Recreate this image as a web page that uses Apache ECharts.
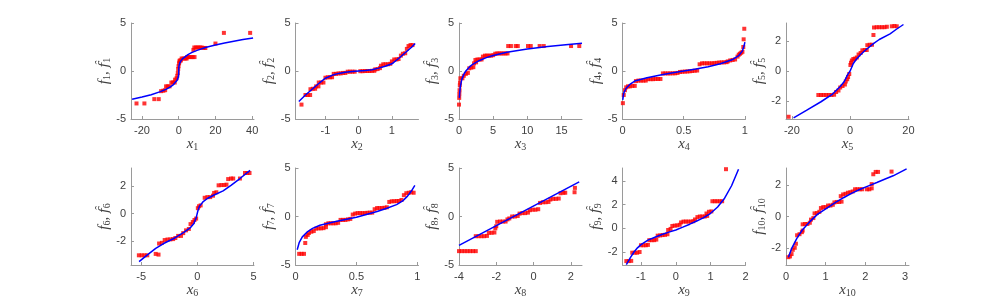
<!DOCTYPE html>
<html>
<head>
<meta charset="utf-8">
<script src="https://cdn.jsdelivr.net/npm/echarts@6/dist/echarts.min.js"></script>
<style>
html,body{margin:0;padding:0;background:#fff;}
#c{width:1005px;height:306px;}
</style>
</head>
<body>
<div id="c"></div>
<script>
// ---------- data ----------
const red1 = [[-23,-3.38],[-18.7,-3.38],[-13.3,-2.93],[-10.9,-2.93],[-9.6,-2.1],[-8.4,-2.05],[-7.4,-2.0],[-6.9,-1.6],[-6.0,-1.6],[-5.0,-1.6],[-4.0,-1.2],[-3.1,-1.2],[-2.2,-1.2],[-2.0,-0.9],[-1.2,-0.76],[-0.8,-0.5],[-0.5,-0.2],[-0.3,0.2],[-0.1,0.5],[0.2,0.8],[0.4,1.0],[0.6,1.1],[1.2,1.1],[1.6,1.3],[2.6,1.3],[3.6,1.3],[4.3,1.3],[4.6,1.45],[5.6,1.45],[6.6,1.45],[7.6,1.45],[8.6,1.45],[8.0,2.2],[8.5,2.45],[9.5,2.45],[10.5,2.45],[11.5,2.45],[12.5,2.45],[13.5,2.4],[14.5,2.4],[20,2.86],[24.6,3.97],[38.9,3.97]];
const fit1 = [[-25.4,-2.94],[-20,-2.71],[-15,-2.47],[-10,-2.15],[-7,-1.91],[-5,-1.71],[-3,-1.44],[-2,-1.26],[-1,-1.0],[-0.5,-0.79],[-0.2,-0.58],[-0.05,-0.37],[-0.01,-0.2],[0,0],[0.01,0.2],[0.05,0.37],[0.2,0.58],[0.5,0.79],[1,1.0],[2,1.26],[3,1.44],[5,1.71],[7,1.91],[10,2.15],[15,2.47],[20,2.71],[25,2.92],[30,3.11],[35,3.27],[40.5,3.43]];

const red2 = [[-1.72,-3.5],[-1.6,-2.5],[-1.53,-2.5],[-1.46,-2.5],[-1.45,-1.9],[-1.38,-1.85],[-1.31,-1.85],[-1.28,-1.6],[-1.21,-1.6],[-1.2,-1.2],[-1.13,-1.2],[-1.06,-1.2],[-1.0,-0.7],[-0.93,-0.65],[-0.86,-0.65],[-0.8,-0.65],[-0.75,-0.3],[-0.68,-0.3],[-0.61,-0.25],[-0.54,-0.25],[-0.47,-0.2],[-0.4,-0.2],[-0.33,-0.07],[-0.26,-0.07],[-0.19,-0.07],[-0.12,-0.07],[0.05,-0.02],[0.12,-0.02],[0.19,0],[0.26,0],[0.33,0],[0.4,0.02],[0.47,0.02],[0.5,0.17],[0.57,0.2],[0.64,0.3],[0.67,0.55],[0.74,0.7],[0.81,0.7],[0.88,0.7],[0.95,0.75],[1.0,1.0],[1.07,1.2],[1.14,1.2],[1.2,1.25],[1.27,1.6],[1.33,1.8],[1.4,1.85],[1.45,2.3],[1.5,2.6],[1.56,2.7],[1.62,2.7]];
const fit2 = [[-1.8,-3.17],[-1.6,-2.5],[-1.4,-1.9],[-1.2,-1.3],[-1.0,-0.75],[-0.8,-0.45],[-0.6,-0.25],[-0.4,-0.12],[-0.2,-0.05],[0,0],[0.2,0.05],[0.4,0.12],[0.6,0.3],[0.8,0.5],[1.0,0.75],[1.2,1.3],[1.4,1.9],[1.6,2.5],[1.7,2.86]];

const red3 = [[0.0,-3.5],[0.03,-2.8],[0.05,-2.4],[0.08,-2.0],[0.12,-1.5],[0.15,-1.2],[0.2,-0.76],[0.5,-0.76],[0.7,-0.5],[1.0,-0.3],[1.3,-0.2],[1.5,0.28],[1.8,0.35],[2.1,0.4],[2.2,0.8],[2.5,0.9],[2.4,1.15],[2.7,1.2],[3.0,1.2],[3.3,1.2],[3.5,1.5],[3.8,1.6],[4.1,1.6],[4.4,1.6],[4.7,1.6],[5.0,1.65],[5.3,1.8],[5.6,1.83],[5.9,1.83],[6.2,1.83],[6.5,1.83],[6.8,1.83],[7.1,1.83],[7.2,2.6],[7.6,2.6],[8.3,2.6],[8.6,2.6],[10.1,2.6],[10.5,2.6],[11.8,2.6],[12.4,2.6],[16.4,2.6],[17.6,2.6]];
const fit3 = [[0.06,-2.8],[0.1,-2.3],[0.2,-1.6],[0.4,-0.9],[0.7,-0.35],[1,0],[1.5,0.4],[2,0.7],[3,1.1],[4,1.39],[5,1.61],[7,1.95],[10,2.3],[13,2.56],[16,2.77],[18,2.89]];

const red4 = [[0.003,-3.35],[0.01,-2.5],[0.02,-2.0],[0.03,-1.7],[0.045,-1.6],[0.06,-1.6],[0.08,-1.55],[0.1,-1.55],[0.11,-1.05],[0.13,-1.0],[0.15,-1.0],[0.17,-1.0],[0.19,-1.0],[0.21,-0.85],[0.23,-0.85],[0.25,-0.85],[0.27,-0.83],[0.29,-0.83],[0.31,-0.83],[0.33,-0.25],[0.35,-0.25],[0.37,-0.25],[0.39,-0.25],[0.41,-0.24],[0.43,-0.24],[0.45,-0.2],[0.47,-0.1],[0.49,-0.08],[0.51,-0.06],[0.53,-0.05],[0.55,-0.03],[0.57,0.0],[0.59,0.03],[0.61,0.05],[0.63,0.7],[0.65,0.8],[0.67,0.8],[0.69,0.8],[0.71,0.8],[0.73,0.8],[0.75,0.82],[0.77,0.85],[0.79,0.88],[0.81,0.9],[0.83,0.9],[0.85,0.92],[0.86,1.0],[0.88,1.1],[0.9,1.15],[0.92,1.2],[0.94,1.5],[0.95,1.7],[0.96,1.8],[0.97,1.9],[0.98,2.0],[0.987,2.5],[0.99,3.3],[0.995,4.4]];
const fit4 = [[0.002,-3.0],[0.01,-2.3],[0.03,-1.8],[0.06,-1.4],[0.1,-1.05],[0.2,-0.7],[0.3,-0.45],[0.4,-0.2],[0.5,0],[0.6,0.22],[0.7,0.45],[0.8,0.75],[0.9,1.2],[0.95,1.6],[0.98,2.1],[0.995,2.7],[1.0,3.0]];

const red5 = [[-21.1,-3.05],[-10.9,-1.6],[-10,-1.6],[-9.1,-1.6],[-8.2,-1.6],[-7.3,-1.6],[-6.4,-1.6],[-5.5,-1.58],[-4.8,-1.4],[-4.0,-1.3],[-3.4,-1.1],[-2.6,-1.0],[-1.8,-0.9],[-1.5,-0.7],[-1.0,-0.55],[-0.7,-0.4],[-0.3,-0.2],[0.1,0.4],[0.3,0.55],[0.6,0.7],[1.1,0.8],[1.7,0.83],[2.3,0.9],[2.9,1.1],[3.6,1.2],[4.2,1.38],[5.0,1.4],[5.7,1.4],[5.9,1.72],[6.7,1.75],[7.5,1.75],[8,2.4],[8.2,2.9],[9.1,2.92],[10,2.92],[10.9,2.92],[11.8,2.92],[12.6,2.95],[14.3,2.98],[15.2,3.0],[16,2.98]];
const fit5 = [[-19.4,-3.12],[-15,-2.62],[-10,-2.05],[-6.3,-1.58],[-3.4,-1.03],[-2,-0.7],[-0.9,-0.26],[0,0],[1.1,0.5],[2,0.75],[3.4,1.05],[5,1.35],[8,1.82],[10,2.1],[13.7,2.48],[16,2.8],[18.3,3.1]];

const red6 = [[-5.2,-3.0],[-4.95,-3.0],[-4.7,-3.0],[-4.45,-3.0],[-3.7,-2.9],[-3.45,-2.95],[-3.4,-2.15],[-3.15,-2.1],[-2.9,-1.9],[-2.65,-1.86],[-2.4,-1.85],[-2.15,-1.83],[-1.95,-1.75],[-1.7,-1.6],[-1.45,-1.6],[-1.25,-1.4],[-1.0,-1.2],[-0.75,-1.1],[-0.6,-0.75],[-0.4,-0.6],[-0.25,-0.45],[-0.1,-0.35],[0.05,0.4],[0.15,0.54],[0.3,0.6],[0.66,1.15],[0.9,1.2],[1.15,1.2],[1.4,1.3],[1.5,1.5],[1.7,1.55],[1.9,2.05],[2.15,2.07],[2.4,2.07],[2.6,2.1],[2.75,2.5],[3.0,2.54],[3.2,2.54],[3.8,2.54],[4.25,2.94],[4.45,2.94],[4.65,2.94]];
const fit6 = [[-5.18,-3.46],[-4.5,-3.0],[-3.7,-2.5],[-3.0,-2.15],[-2.0,-1.75],[-1.2,-1.35],[-0.6,-1.0],[-0.3,-0.7],[-0.1,-0.3],[0.05,0.2],[0.2,0.55],[0.5,0.85],[0.9,1.1],[1.5,1.35],[2.3,1.65],[3.0,2.05],[3.8,2.54],[4.7,3.13]];

const red7 = [[0.03,-3.85],[0.05,-3.85],[0.07,-3.85],[0.08,-2.73],[0.085,-2.1],[0.1,-1.9],[0.11,-1.7],[0.13,-1.57],[0.15,-1.5],[0.17,-1.25],[0.19,-1.22],[0.21,-1.22],[0.23,-1.2],[0.25,-1.1],[0.25,-0.8],[0.27,-0.7],[0.29,-0.7],[0.31,-0.7],[0.33,-0.7],[0.35,-0.65],[0.37,-0.35],[0.39,-0.35],[0.41,-0.35],[0.43,-0.3],[0.45,-0.25],[0.47,0.2],[0.49,0.3],[0.51,0.35],[0.53,0.35],[0.55,0.35],[0.57,0.35],[0.59,0.38],[0.61,0.4],[0.63,0.4],[0.65,0.75],[0.67,0.87],[0.69,0.87],[0.71,0.87],[0.73,0.9],[0.75,0.95],[0.77,1.5],[0.79,1.57],[0.81,1.57],[0.83,1.6],[0.85,1.6],[0.87,1.7],[0.89,2.2],[0.91,2.4],[0.93,2.45],[0.95,2.5],[0.97,2.45]];
const fit7 = [[0.014,-3.43],[0.03,-2.7],[0.056,-2.1],[0.1,-1.55],[0.14,-1.22],[0.2,-0.9],[0.33,-0.52],[0.5,-0.07],[0.67,0.52],[0.75,0.85],[0.83,1.22],[0.88,1.6],[0.92,2.1],[0.95,2.6],[0.98,3.2]];

const red8 = [[-4.0,-3.57],[-3.85,-3.57],[-3.7,-3.57],[-3.55,-3.57],[-3.4,-3.57],[-3.25,-3.57],[-3.1,-3.57],[-3.1,-2.03],[-2.95,-2.03],[-2.8,-2.03],[-2.65,-2.03],[-2.5,-2.0],[-2.4,-1.68],[-2.25,-1.68],[-2.1,-1.65],[-2.05,-1.22],[-2.0,-1.0],[-1.95,-0.55],[-1.8,-0.52],[-1.65,-0.52],[-1.5,-0.52],[-1.4,-0.3],[-1.3,-0.2],[-1.15,0],[-1.0,0.0],[-0.85,0.05],[-0.75,0.3],[-0.6,0.35],[-0.45,0.35],[-0.3,0.4],[-0.2,0.65],[-0.05,0.7],[0.1,0.7],[0.25,0.75],[0.35,1.4],[0.5,1.47],[0.65,1.47],[0.8,1.5],[0.9,1.75],[1.05,1.82],[1.2,1.82],[1.35,1.85],[1.45,2.4],[1.6,2.45],[1.7,2.45],[2.2,2.5],[2.22,2.95]];
const fit8 = [[-4.0,-2.97],[2.45,3.57]];

const red9 = [[-1.42,-2.77],[-1.35,-2.77],[-1.28,-2.75],[-1.25,-2.06],[-1.18,-2.06],[-1.11,-2.06],[-1.04,-2.0],[-1.0,-1.43],[-0.93,-1.43],[-0.86,-1.43],[-0.8,-1.4],[-0.76,-1.0],[-0.69,-1.0],[-0.62,-1.0],[-0.56,-0.95],[-0.52,-0.62],[-0.45,-0.6],[-0.38,-0.57],[-0.31,-0.55],[-0.24,-0.5],[-0.22,-0.14],[-0.15,-0.05],[-0.1,0.2],[-0.03,0.23],[0.04,0.25],[0.11,0.3],[0.15,0.5],[0.22,0.57],[0.29,0.57],[0.36,0.57],[0.43,0.57],[0.5,0.6],[0.55,0.75],[0.62,0.95],[0.69,1.0],[0.76,1.0],[0.83,1.0],[0.9,1.05],[0.88,1.25],[0.95,1.4],[1.02,1.43],[1.05,2.29],[1.12,2.29],[1.19,2.29],[1.26,2.29],[1.33,2.29],[1.44,5.0]];
const fit9 = [[-1.42,-3.06],[-1.3,-2.45],[-1.2,-2.0],[-1.1,-1.65],[-1.0,-1.38],[-0.8,-1.0],[-0.6,-0.75],[-0.4,-0.52],[-0.2,-0.32],[0,-0.14],[0.2,0.1],[0.4,0.35],[0.6,0.62],[0.8,0.9],[1.0,1.27],[1.2,1.8],[1.4,2.55],[1.6,3.6],[1.8,5.0]];

const red10 = [[0.06,-2.6],[0.1,-2.55],[0.14,-2.4],[0.17,-2.13],[0.22,-2.0],[0.25,-1.74],[0.28,-1.2],[0.34,-1.13],[0.4,-1.0],[0.42,-0.9],[0.42,-0.5],[0.48,-0.48],[0.54,-0.48],[0.6,-0.4],[0.63,-0.2],[0.69,-0.1],[0.72,0.2],[0.78,0.22],[0.84,0.3],[0.88,0.54],[0.94,0.6],[1.0,0.6],[1.06,0.7],[1.12,0.7],[1.18,0.75],[1.22,0.9],[1.28,0.93],[1.34,0.93],[1.4,0.95],[1.38,1.3],[1.44,1.41],[1.5,1.45],[1.56,1.52],[1.62,1.55],[1.68,1.6],[1.74,1.74],[1.8,1.74],[1.86,1.74],[1.92,1.74],[2.04,1.74],[2.1,1.74],[2.16,1.8],[2.16,2.07],[2.2,2.7],[2.26,2.85],[2.32,2.85],[2.66,2.87]];
const fit10 = [[0.06,-2.6],[0.15,-2.0],[0.27,-1.41],[0.4,-0.9],[0.6,-0.33],[0.8,0.15],[1.03,0.54],[1.25,0.9],[1.45,1.2],[1.65,1.48],[1.87,1.74],[2.08,1.96],[2.29,2.17],[2.5,2.4],[2.7,2.6],[3.04,3.04]];

// axis ranges and tick labels
const xRanges = [[-26,41],[-1.9,1.8],[0,18],[0,1.005],[-22,20.2],[-5.9,5.05],[0,1.01],[-4,2.6],[-1.53,2],[0,3.1]];
const yRanges = [[-5,5],[-5,5],[-5,5],[-5,5],[-3.2,3.2],[-3.7,3.3],[-5,5],[-5,5],[-3.1,5.1],[-3.1,3.1]];
const xTicks = [[-20,0,20,40],[-1,0,1],[0,5,10,15],[0,0.5,1],[-20,0,20],[-5,0,5],[0,0.5,1],[-4,-2,0,2],[-1,0,1,2],[0,1,2,3]];
const yTicks = [[-5,0,5],[-5,0,5],[-5,0,5],[-5,0,5],[-2,0,2],[-2,0,2],[-5,0,5],[-5,0,5],[-2,0,2,4],[-2,0,2]];
const indices = ['1','2','3','4','5','6','7','8','9','10'];
const reds = [red1,red2,red3,red4,red5,red6,red7,red8,red9,red10];
const fits = [fit1,fit2,fit3,fit4,fit5,fit6,fit7,fit8,fit9,fit10];

// ---------- layout ----------
const colLefts = [131, 295.5, 459, 622.5, 786];
const rowTops = [23, 168];
const plotW = 123, plotH = [96, 97];

const axisCol = '#9a9a9a', txtCol = '#404040';
const richName = {
  i: {fontFamily: 'Liberation Serif', fontStyle: 'italic', fontSize: 15, color: txtCol},
  h: {fontFamily: 'DejaVu Serif', fontStyle: 'italic', fontSize: 13, color: txtCol},
  s: {fontFamily: 'Liberation Serif', fontSize: 10, color: txtCol, padding: [6, 0, 0, 0]}
};

const grid = [], xAxis = [], yAxis = [], series = [];
for (let k = 0; k < 10; k++) {
  const r = Math.floor(k / 5), c = k % 5;
  grid.push({left: colLefts[c], top: rowTops[r], width: plotW, height: plotH[r]});
  const common = {
    type: 'value', gridIndex: k,
    axisLine: {show: true, onZero: false, lineStyle: {color: axisCol, width: 1}},
    splitLine: {show: false},
    nameLocation: 'middle',
    nameTextStyle: {rich: richName}
  };
  xAxis.push(Object.assign({}, common, {
    min: xRanges[k][0], max: xRanges[k][1],
    axisTick: {show: true, inside: true, length: 3, lineStyle: {color: axisCol}, customValues: xTicks[k]},
    axisLabel: {customValues: xTicks[k], fontSize: 11, color: txtCol, fontFamily: 'Liberation Sans', margin: 6},
    name: '{i|x}{s|' + indices[k] + '}', nameGap: 17
  }));
  yAxis.push(Object.assign({}, common, {
    min: yRanges[k][0], max: yRanges[k][1],
    axisTick: {show: true, inside: true, length: 3, lineStyle: {color: axisCol}, customValues: yTicks[k]},
    axisLabel: {customValues: yTicks[k], fontSize: 11, color: txtCol, fontFamily: 'Liberation Sans', margin: 5},
    name: '{i|f}{s|' + indices[k] + '}{i|, }{h|f\u0302}{s|' + indices[k] + '}', nameGap: 17, nameRotate: 90
  }));
  series.push({
    type: 'scatter', xAxisIndex: k, yAxisIndex: k, data: reds[k],
    symbol: 'rect', symbolSize: 4, itemStyle: {color: '#ff0000'}, silent: true, z: 2
  });
  series.push({
    type: 'line', xAxisIndex: k, yAxisIndex: k, data: fits[k],
    showSymbol: false, lineStyle: {color: '#0000ff', width: 1.5}, silent: true, z: 3
  });
}

const chart = echarts.init(document.getElementById('c'), null, {renderer: 'canvas'});
chart.setOption({animation: false, backgroundColor: '#ffffff', grid, xAxis, yAxis, series});
</script>
</body>
</html>
